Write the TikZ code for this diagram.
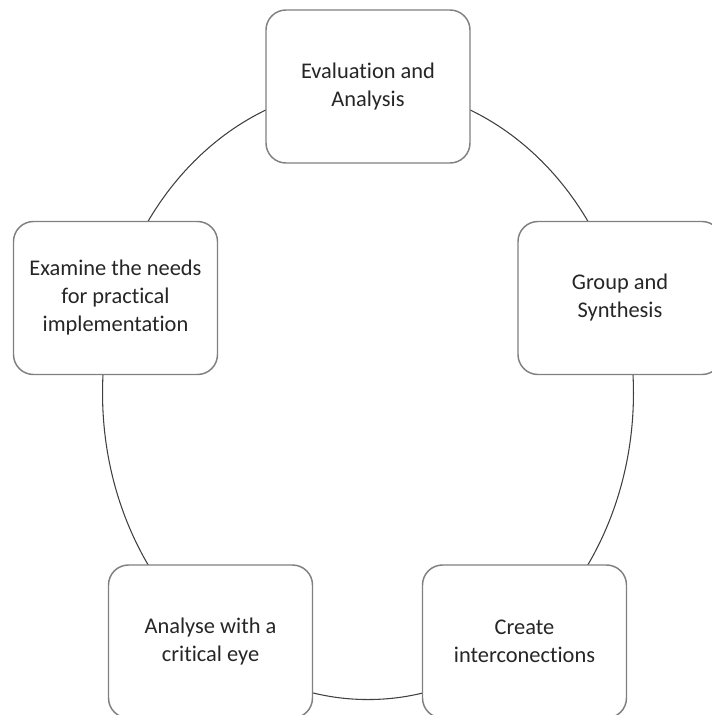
\documentclass[tikz,border=0pt]{standalone}
\usepackage{fontspec}
\setmainfont{Carlito}[Ligatures=NoCommon]
\begin{document}
\begin{tikzpicture}[x=0.75pt,y=0.75pt,
    stage/.style={draw=black!50, line width=1.1pt, fill=white, rounded corners=15pt,
        minimum width=153pt, minimum height=114.75pt, align=center,
        text=black!85, font=\fontsize{16.8}{21}\selectfont},
    ring/.style={draw=black!75, line width=0.8pt}]
    \clip (0,0) rectangle (712,-715);
    \coordinate (hub) at (368,-393);
    \draw[ring] (hub) ellipse [x radius=199.1pt, y radius=229.9pt];
    \node[stage] (eval) at (368,-86.5) {Evaluation and\\Analysis};
    \node[stage] (group) at (620,-298) {Group and\\Synthesis};
    \node[stage] (create) at (524.5,-641.5) {Create\\interconections};
    \node[stage] (critic) at (210.5,-641.5) {Analyse with a\\critical eye};
    \node[stage] (needs) at (115.5,-298) {Examine the needs\\for practical\\implementation};
\end{tikzpicture}
\end{document}
